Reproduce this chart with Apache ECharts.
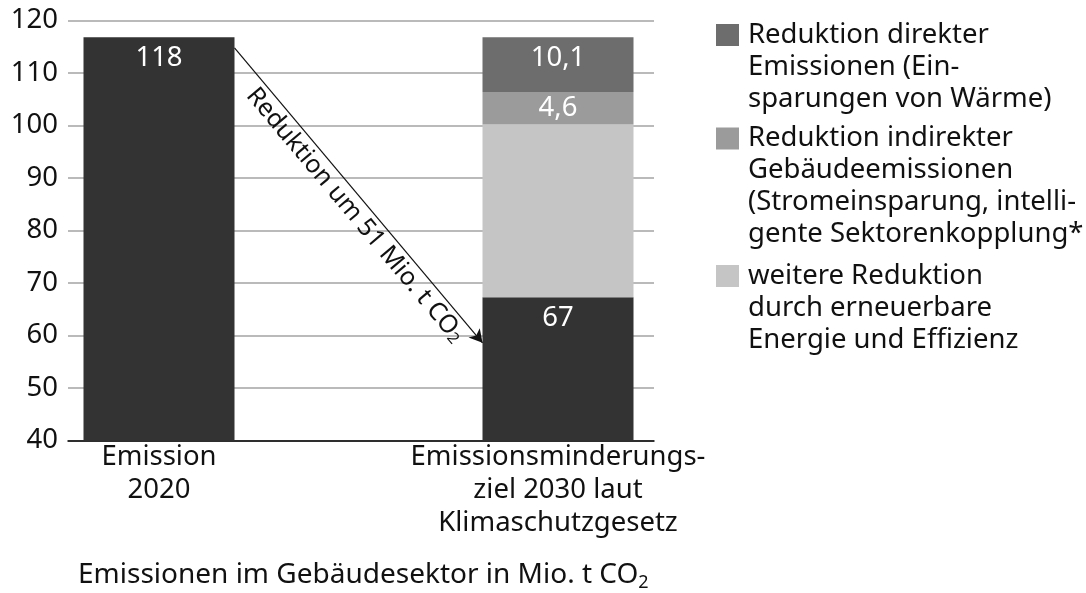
<!DOCTYPE html>
<html><head><meta charset="utf-8">
<script src="https://cdn.jsdelivr.net/npm/echarts@6/dist/echarts.min.js"></script>
<style>html,body{margin:0;padding:0;background:#fff}#c{width:1086px;height:593px}</style>
</head><body><div id="c"></div>
<script>
// ---- data ----
const categories = ['Emission\n2020', 'Emissionsminderungs-\nziel 2030 laut\nKlimaschutzgesetz'];
const baseValues = [116.8, 67.3];
const baseLabels = ['118', '67'];
const furtherValues = [null, 32.9];
const indirectValues = [null, 6.2];
const indirectLabels = ['', '4,6'];
const directValues = [null, 10.4];
const directLabels = ['', '10,1'];
const yMin = 40, yMax = 120, yStep = 10;
const arrowFromValue = 114.8;   // left end of arrow (at right edge of first bar)
const arrowToValue = 58.6;      // right end of arrow (at left edge of second bar)
const arrowText = 'Reduktion um 51 Mio. t CO';
const axisTitle = 'Emissionen im Gebäudesektor in Mio. t CO';
const legendNames = [
  'Reduktion direkter\nEmissionen (Ein-\nsparungen von Wärme)',
  'Reduktion indirekter\nGebäudeemissionen\n(Stromeinsparung, intelli-\ngente Sektorenkopplung*',
  'weitere Reduktion\ndurch erneuerbare\nEnergie und Effizienz'
];

// ---- layout / style ----
const FONT = 'Noto Sans';
const FS = 27.5;
const plotLeft = 68, plotRight = 654, plotTop = 20.5, plotBottom = 440.5;
const firstCenter = 159, centerSpacing = 399, barW = 151;
const colors = { base: '#333333', further: '#c5c5c5', indirect: '#9b9b9b', direct: '#6d6d6d' };

const W = 1086, H = 593;
const halfBarUnits = barW / 2 / centerSpacing;

const legendIconCenters = [35, 138.5, 276];
const LH = 32;
const legends = legendNames.map((name, i) => {
  const n = name.split('\n').length;
  const boxH = (2 * n - 1) * LH;
  return {
    data: [name],
    orient: 'vertical',
    left: 716,
    top: legendIconCenters[i] - boxH / 2,
    padding: 0,
    icon: 'rect',
    itemWidth: 23,
    itemHeight: 22,
    selectedMode: false,
    formatter: nm => '\n'.repeat(n - 1) + nm,
    textStyle: {
      fontFamily: FONT, fontSize: FS, color: '#111', lineHeight: LH,
      padding: [0, 0, 0, 4]
    }
  };
});

const chart = echarts.init(document.getElementById('c'), null, { renderer: 'canvas' });
const option = {
  backgroundColor: '#fff',
  animation: false,
  textStyle: { fontFamily: FONT },
  title: {
    text: axisTitle + '{sub|2}',
    left: 78, top: 558, padding: 0,
    textStyle: {
      fontFamily: FONT, fontSize: 28, fontWeight: 'normal', color: '#111', lineHeight: 34,
      rich: { sub: { fontFamily: FONT, fontSize: 18, color: '#111', verticalAlign: 'bottom', lineHeight: 18 } }
    }
  },
  legend: legends,
  grid: [
    { left: plotLeft, right: W - plotRight, top: plotTop, bottom: H - plotBottom, outerBoundsMode: 'none', containLabel: false },
    { left: firstCenter - centerSpacing / 2, width: centerSpacing * 2, top: plotTop, bottom: H - plotBottom, outerBoundsMode: 'none', containLabel: false }
  ],
  xAxis: [
    {
      gridIndex: 0, type: 'value',
      min: (plotLeft - firstCenter) / centerSpacing,
      max: (plotRight - firstCenter) / centerSpacing,
      axisLine: { show: true, onZero: false, lineStyle: { color: '#000', width: 1.5 } },
      axisTick: { show: false }, axisLabel: { show: false }, splitLine: { show: false }
    },
    {
      gridIndex: 1, type: 'category', data: categories,
      axisLine: { show: false }, axisTick: { show: false }, splitLine: { show: false },
      axisLabel: { interval: 0, margin: 0, fontFamily: FONT, fontSize: FS, lineHeight: 33, color: '#111' }
    }
  ],
  yAxis: [
    {
      gridIndex: 0, type: 'value', min: yMin, max: yMax, interval: yStep,
      axisLine: { show: false }, axisTick: { show: false },
      axisLabel: { margin: 10, fontFamily: FONT, fontSize: FS, color: '#111' },
      splitLine: { lineStyle: { color: '#a3a3a3', width: 1.5 } }
    },
    { gridIndex: 1, type: 'value', min: yMin, max: yMax, show: false, splitLine: { show: false } }
  ],
  series: [
    {
      name: 'Basis', type: 'bar', xAxisIndex: 1, yAxisIndex: 1, stack: 's', barWidth: barW,
      data: baseValues, itemStyle: { color: colors.base },
      label: { show: true, position: 'insideTop', distance: 7, color: '#fff', fontFamily: FONT, fontSize: FS,
        formatter: p => baseLabels[p.dataIndex] }
    },
    {
      name: legendNames[2], type: 'bar', xAxisIndex: 1, yAxisIndex: 1, stack: 's', barWidth: barW,
      data: furtherValues, itemStyle: { color: colors.further }
    },
    {
      name: legendNames[1], type: 'bar', xAxisIndex: 1, yAxisIndex: 1, stack: 's', barWidth: barW,
      data: indirectValues, itemStyle: { color: colors.indirect },
      label: { show: true, position: 'inside', color: '#fff', fontFamily: FONT, fontSize: FS,
        formatter: p => indirectLabels[p.dataIndex] }
    },
    {
      name: legendNames[0], type: 'bar', xAxisIndex: 1, yAxisIndex: 1, stack: 's', barWidth: barW,
      data: directValues, itemStyle: { color: colors.direct },
      label: { show: true, position: 'insideTop', distance: 7, color: '#fff', fontFamily: FONT, fontSize: FS,
        formatter: p => directLabels[p.dataIndex] }
    },
    {
      name: 'arrow', type: 'line', xAxisIndex: 0, yAxisIndex: 0, data: [], silent: true,
      markLine: {
        silent: true, animation: false,
        symbol: ['none', 'arrow'], symbolSize: [11, 13],
        lineStyle: { color: '#111', width: 1.2, type: 'solid' },
        label: {
          show: true, position: 'insideMiddleBottom', distance: 3,
          formatter: arrowText + '{sub|2}',
          fontFamily: FONT, fontSize: 25, color: '#111', padding: [0, 0, 0, 26],
          rich: { sub: { fontFamily: FONT, fontSize: 16, color: '#111', verticalAlign: 'bottom', lineHeight: 16 } }
        },
        data: [[
          { coord: [0 + halfBarUnits, arrowFromValue] },
          { coord: [1 - halfBarUnits, arrowToValue] }
        ]]
      }
    }
  ]
};
chart.setOption(option);
</script>
</body></html>
